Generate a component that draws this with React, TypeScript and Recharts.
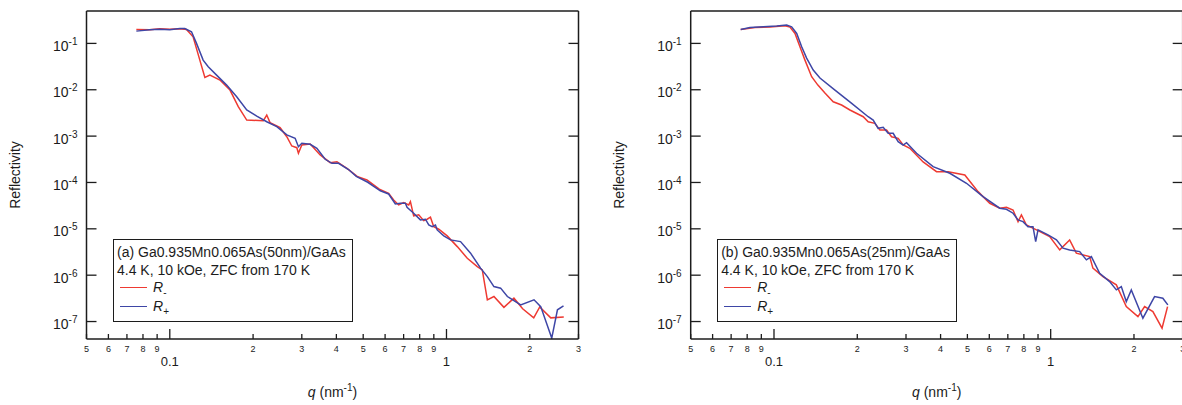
import React from "react";
import { Legend, Line, LineChart, XAxis, YAxis } from "recharts";

// q (nm^-1) and reflectivity
// panel (a): 50 nm film
const qMinusA = [
  0.0757, 0.0846, 0.092, 0.1, 0.1087, 0.1149, 0.1214, 0.1284, 0.1339, 0.1396, 0.1518, 0.165, 0.1768, 0.1897,
  0.2178, 0.2241, 0.2303, 0.2436, 0.2504, 0.2648, 0.276, 0.2878, 0.2917, 0.3, 0.3216, 0.3496, 0.38, 0.4018,
  0.4368, 0.4779, 0.516, 0.5718, 0.6178, 0.6443, 0.6718, 0.7004, 0.7302, 0.7407, 0.761, 0.7937, 0.8275, 0.8513,
  0.875, 0.8995, 0.9378, 1.006, 1.094, 1.189, 1.292, 1.347, 1.405, 1.484, 1.613, 1.753, 1.885, 2.067, 2.173,
  2.382, 2.654,
];
const rMinusA = [
  0.2, 0.198, 0.208, 0.203, 0.208, 0.2, 0.139, 0.0436, 0.0185, 0.0207, 0.0162, 0.00986, 0.00431, 0.00222,
  0.00215, 0.00285, 0.00195, 0.00165, 0.00152, 0.00097, 0.000612, 0.000563, 0.000426, 0.000643, 0.000676,
  0.000392, 0.000267, 0.000281, 0.000202, 0.000133, 0.000113, 7.18e-5, 5.85e-5, 4.2e-5, 3.27e-5, 3.67e-5,
  3.27e-5, 3.85e-5, 1.9e-5, 2.0e-5, 1.5e-5, 1.61e-5, 1.78e-5, 1.11e-5, 9.8e-6, 7.03e-6, 4.13e-6, 2.32e-6,
  1.53e-6, 1.3e-6, 2.94e-7, 3.46e-7, 2.02e-7, 3.19e-7, 1.88e-7, 1.2e-7, 2.07e-7, 1.2e-7, 1.26e-7,
];
const qPlusA = [
  0.0757, 0.0846, 0.092, 0.1, 0.1087, 0.1133, 0.1198, 0.1249, 0.132, 0.1377, 0.1476, 0.1605, 0.1745, 0.1897,
  0.2062, 0.2241, 0.2436, 0.2648, 0.2838, 0.2917, 0.3, 0.3216, 0.3401, 0.3644, 0.3854, 0.4072, 0.4426, 0.472,
  0.5195, 0.5767, 0.6178, 0.6534, 0.6812, 0.7102, 0.7203, 0.761, 0.805, 0.8394, 0.863, 0.8878, 0.9122, 0.9254,
  0.9777, 1.034, 1.124, 1.222, 1.328, 1.405, 1.484, 1.569, 1.66, 1.854, 2.072, 2.191, 2.401, 2.518, 2.648,
];
const rPlusA = [
  0.184, 0.198, 0.203, 0.198, 0.21, 0.21, 0.178, 0.1, 0.0436, 0.0313, 0.0207, 0.0126, 0.00706, 0.00366,
  0.00271, 0.00204, 0.0016, 0.00106, 0.000897, 0.000591, 0.0007, 0.000666, 0.000546, 0.000316, 0.000259,
  0.000259, 0.00019, 0.000135, 0.000101, 6.62e-5, 5.65e-5, 3.44e-5, 3.56e-5, 3.56e-5, 2.92e-5, 2.17e-5,
  1.56e-5, 1.61e-5, 1.21e-5, 1.11e-5, 1.21e-5, 9.46e-6, 7.03e-6, 5.77e-6, 5.3e-6, 2.98e-6, 1.42e-6, 9.33e-7,
  5.68e-7, 5.25e-7, 3.46e-7, 2.29e-7, 2.94e-7, 2.1e-7, 4.39e-8, 1.79e-7, 2.18e-7,
];

// panel (b): 25 nm film
const qMinusB = [
  0.0758, 0.0854, 0.0967, 0.1096, 0.1142, 0.1191, 0.1241, 0.1294, 0.1368, 0.1441, 0.1528, 0.1637, 0.1755,
  0.1881, 0.2101, 0.219, 0.2315, 0.2414, 0.2552, 0.266, 0.281, 0.293, 0.3097, 0.3459, 0.3868, 0.4258, 0.4894,
  0.5465, 0.6024, 0.6545, 0.692, 0.7311, 0.7621, 0.7838, 0.8171, 0.8882, 0.9917, 1.078, 1.171, 1.238, 1.383,
  1.421, 1.545, 1.727, 1.876, 2.067, 2.185, 2.341, 2.526, 2.645,
];
const rMinusB = [
  0.2, 0.219, 0.225, 0.239, 0.225, 0.164, 0.0845, 0.0436, 0.0191, 0.0126, 0.00849, 0.00551, 0.00468, 0.00366,
  0.00262, 0.00204, 0.00189, 0.00135, 0.00135, 0.00097, 0.000897, 0.000643, 0.000546, 0.000277, 0.000171,
  0.000171, 0.000145, 6.34e-5, 3.56e-5, 2.78e-5, 2.92e-5, 2.55e-5, 1.43e-5, 2.0e-5, 1.21e-5, 9.46e-6, 6.79e-6,
  3.51e-6, 5.77e-6, 2.98e-6, 2.52e-6, 1.42e-6, 9.33e-7, 6.18e-7, 2.1e-7, 1.28e-7, 2.1e-7, 1.64e-7, 7.21e-8,
  2.1e-7,
];
const qPlusB = [
  0.0758, 0.0819, 0.0915, 0.1023, 0.1111, 0.1158, 0.1208, 0.1259, 0.1312, 0.1386, 0.1466, 0.1661, 0.1909,
  0.219, 0.2283, 0.2379, 0.2481, 0.2586, 0.2696, 0.281, 0.293, 0.3014, 0.3275, 0.3759, 0.432, 0.4963, 0.5696,
  0.6545, 0.692, 0.7311, 0.7621, 0.7943, 0.828, 0.863, 0.8827, 0.9, 0.9779, 1.049, 1.108, 1.171, 1.273, 1.346,
  1.403, 1.503, 1.633, 1.727, 1.8, 1.876, 1.956, 2.154, 2.374, 2.543, 2.651,
];
const rPlusB = [
  0.2, 0.221, 0.228, 0.236, 0.248, 0.228, 0.164, 0.0845, 0.0482, 0.0266, 0.0179, 0.00986, 0.00509, 0.00262,
  0.00222, 0.00147, 0.00155, 0.00115, 0.00115, 0.000757, 0.000643, 0.000721, 0.000426, 0.000219, 0.000158,
  9.6e-5, 4.95e-5, 2.78e-5, 2.64e-5, 2.17e-5, 1.56e-5, 1.43e-5, 1.11e-5, 1.11e-5, 5.3e-6, 9.46e-6, 7.39e-6,
  5.77e-6, 3.82e-6, 3.51e-6, 3.23e-6, 2.14e-6, 2.52e-6, 1.1e-6, 7.28e-7, 4.82e-7, 5.68e-7, 2.7e-7, 4.82e-7,
  1.18e-7, 3.46e-7, 3.19e-7, 2.29e-7,
];

const X_DOMAIN = [0.05, 3];
const Y_DOMAIN = [4.2e-8, 0.5];
const X_TICKS = [0.05, 0.06, 0.07, 0.08, 0.09, 0.1, 0.2, 0.3, 0.4, 0.5, 0.6, 0.7, 0.8, 0.9, 1, 2, 3];
const X_TICK_LABELS = ["5", "6", "7", "8", "9", "0.1", "2", "3", "4", "5", "6", "7", "8", "9", "1", "2", "3"];
const X_MAJOR = [0.1, 1];
const Y_TICKS = [1e-7, 1e-6, 1e-5, 1e-4, 1e-3, 1e-2, 1e-1];
const Y_TICK_EXP = ["-7", "-6", "-5", "-4", "-3", "-2", "-1"];
const SERIES_ORDER = ["R-", "R+"];

const CONDITIONS = "4.4 K, 10 kOe, ZFC from 170 K";
const RED = "#ee3a32";
const BLUE = "#3e46a6";
const INK = "#1c1c1c";
const FONT = '"Liberation Sans", Arial, Helvetica, sans-serif';

const near = (a: number, b: number) => Math.abs(a - b) / b < 1e-6;
const isMajor = (v: number) => X_MAJOR.some((m) => near(v, m));
const zip = (q: number[], r: number[]) => q.map((v, i) => ({ q: v, r: r[i] }));

function BottomTick({ x, y, payload }: any) {
  const v = payload.value;
  const major = isMajor(v);
  const label = X_TICK_LABELS[X_TICKS.findIndex((t) => near(v, t))];
  return (
    <g>
      <line x1={x} x2={x} y1={y} y2={y - (major ? 10 : 5)} stroke={INK} strokeWidth={1.3} />
      <text
        x={x}
        y={y + (major ? 27 : 13)}
        textAnchor="middle"
        fontSize={major ? 13 : 9}
        fontFamily={FONT}
        fill={INK}
      >
        {label}
      </text>
    </g>
  );
}

function TopTick({ x, y, payload }: any) {
  const major = isMajor(payload.value);
  return <line x1={x} x2={x} y1={y} y2={y + (major ? 10 : 5)} stroke={INK} strokeWidth={1.3} />;
}

function LeftTick({ x, y, payload }: any) {
  const exp = Y_TICK_EXP[Y_TICKS.findIndex((t) => near(payload.value, t))];
  return (
    <g>
      <line x1={x} x2={x + 10} y1={y} y2={y} stroke={INK} strokeWidth={1.3} />
      <text x={x - 9} y={y + 7.5} textAnchor="end" fontSize={14} fontFamily={FONT} fill={INK}>
        <tspan>10</tspan>
        <tspan dy={-6} fontSize={10}>
          {exp}
        </tspan>
      </text>
    </g>
  );
}

function RightTick({ x, y }: any) {
  return <line x1={x} x2={x - 10} y1={y} y2={y} stroke={INK} strokeWidth={1.3} />;
}

function XTitle({ viewBox }: any) {
  const { x, y, width } = viewBox;
  return (
    <text x={x + width / 2} y={y + 58} textAnchor="middle" fontSize={14} fontFamily={FONT} fill={INK}>
      <tspan fontStyle="italic">q</tspan>
      <tspan> (nm</tspan>
      <tspan dy={-6} fontSize={10}>
        -1
      </tspan>
      <tspan dy={6}>)</tspan>
    </text>
  );
}

function YTitle({ viewBox }: any) {
  const { x, y, width, height } = viewBox;
  const cx = x + width - 72;
  const cy = y + height / 2;
  return (
    <text
      x={cx}
      y={cy}
      transform={`rotate(-90 ${cx} ${cy})`}
      textAnchor="middle"
      dominantBaseline="central"
      fontSize={14}
      fontFamily={FONT}
      fill={INK}
    >
      Reflectivity
    </text>
  );
}

function LegendBox({ payload, title }: any) {
  const items = [...(payload ?? [])].sort(
    (a: any, b: any) => SERIES_ORDER.indexOf(String(a.value)) - SERIES_ORDER.indexOf(String(b.value))
  );
  return (
    <div
      style={{
        position: "relative",
        width: "100%",
        height: "100%",
        boxSizing: "border-box",
        border: `1px solid ${INK}`,
        background: "#fff",
        fontFamily: FONT,
        fontSize: 14,
        color: INK,
        lineHeight: "17px",
        whiteSpace: "nowrap",
      }}
    >
      <div style={{ position: "absolute", left: 3, top: 4 }}>{title}</div>
      <div style={{ position: "absolute", left: 3, top: 21.5 }}>{CONDITIONS}</div>
      {items.map((p: any, i: number) => (
        <div
          key={i}
          style={{ position: "absolute", left: 6, top: 39 + i * 19.4, height: 17, display: "flex", alignItems: "center" }}
        >
          <span style={{ display: "inline-block", width: 27, borderTop: `1.5px solid ${p.color}` }} />
          <span style={{ marginLeft: 6, fontStyle: "italic" }}>
            R
            <span style={{ fontStyle: "normal", fontSize: 10, position: "relative", top: 4 }}>
              {String(p.value).slice(1)}
            </span>
          </span>
        </div>
      ))}
    </div>
  );
}

function Panel({
  left,
  width,
  plotLeft,
  title,
  minus,
  plus,
}: {
  left: number;
  width: number;
  plotLeft: number;
  title: string;
  minus: { q: number; r: number }[];
  plus: { q: number; r: number }[];
}) {
  const plotWidth = 492;
  const axisLine = { stroke: INK, strokeWidth: 1.5 };
  // axes are 1px thick so they still render; margins shave that pixel back off
  return (
    <div style={{ position: "absolute", left, top: 0 }}>
      <LineChart
        width={width}
        height={405}
        margin={{ top: 10, left: plotLeft - 1, right: width - plotLeft - plotWidth - 1, bottom: 65 }}
      >
        <XAxis
          xAxisId="b"
          dataKey="q"
          type="number"
          scale="log"
          domain={X_DOMAIN}
          allowDataOverflow
          ticks={X_TICKS}
          interval={0}
          height={1}
          tickSize={0}
          tickMargin={0}
          tickLine={false}
          axisLine={axisLine}
          tick={BottomTick}
          label={XTitle}
        />
        <XAxis
          xAxisId="t"
          orientation="top"
          type="number"
          scale="log"
          domain={X_DOMAIN}
          allowDataOverflow
          ticks={X_TICKS}
          interval={0}
          height={1}
          tickSize={0}
          tickMargin={0}
          tickLine={false}
          axisLine={axisLine}
          tick={TopTick}
        />
        <YAxis
          yAxisId="l"
          type="number"
          scale="log"
          domain={Y_DOMAIN}
          allowDataOverflow
          ticks={Y_TICKS}
          interval={0}
          width={1}
          tickSize={0}
          tickMargin={0}
          tickLine={false}
          axisLine={axisLine}
          tick={LeftTick}
          label={YTitle}
        />
        <YAxis
          yAxisId="r"
          orientation="right"
          type="number"
          scale="log"
          domain={Y_DOMAIN}
          allowDataOverflow
          ticks={Y_TICKS}
          interval={0}
          width={1}
          tickSize={0}
          tickMargin={0}
          tickLine={false}
          axisLine={axisLine}
          tick={RightTick}
        />
        <Legend
          layout="vertical"
          align="center"
          verticalAlign="middle"
          wrapperStyle={{ left: plotLeft + 26.5, top: 239, width: 240, height: 83 }}
          content={(props: any) => <LegendBox {...props} title={title} />}
        />
        <Line
          xAxisId="b"
          yAxisId="l"
          data={minus}
          dataKey="r"
          name="R-"
          type="linear"
          stroke={RED}
          strokeWidth={1.5}
          dot={false}
          isAnimationActive={false}
        />
        <Line
          xAxisId="b"
          yAxisId="l"
          data={plus}
          dataKey="r"
          name="R+"
          type="linear"
          stroke={BLUE}
          strokeWidth={1.5}
          dot={false}
          isAnimationActive={false}
        />
      </LineChart>
    </div>
  );
}

export default function App() {
  return (
    <div
      style={{
        position: "absolute",
        left: 0,
        top: 0,
        width: 1182,
        height: 405,
        overflow: "hidden",
        background: "#fff",
        fontFamily: FONT,
      }}
    >
      <Panel
        left={0}
        width={591}
        plotLeft={86.5}
        title="(a) Ga0.935Mn0.065As(50nm)/GaAs"
        minus={zip(qMinusA, rMinusA)}
        plus={zip(qPlusA, rPlusA)}
      />
      <Panel
        left={600}
        width={600}
        plotLeft={90.7}
        title="(b) Ga0.935Mn0.065As(25nm)/GaAs"
        minus={zip(qMinusB, rMinusB)}
        plus={zip(qPlusB, rPlusB)}
      />
    </div>
  );
}
